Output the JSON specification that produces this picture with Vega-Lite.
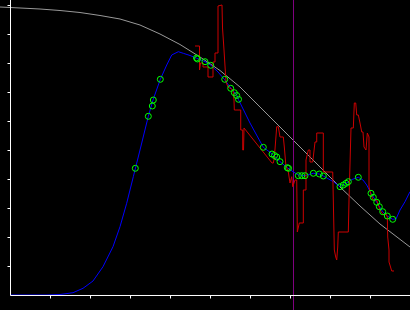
{
  "$schema": "https://vega.github.io/schema/vega-lite/v6.json",
  "width": 410,
  "height": 310,
  "autosize": "none",
  "padding": 0,
  "background": "black",
  "config": {
    "view": {"stroke": null},
    "axis": {"domain": false, "labels": false, "grid": false, "ticks": true, "tickColor": "white", "tickSize": 3, "tickWidth": 1, "labelOverlap": false},
    "axisX": {"offset": -15},
    "axisY": {"offset": -10}
  },
  "datasets": {
    "gray": [
      {"x": -0.25, "y": 9.931}, {"x": 0.25, "y": 9.897}, {"x": 0.75, "y": 9.862}, {"x": 1.25, "y": 9.81},
      {"x": 1.75, "y": 9.741}, {"x": 2.25, "y": 9.638}, {"x": 2.75, "y": 9.517}, {"x": 3.25, "y": 9.31},
      {"x": 3.75, "y": 9.0}, {"x": 4.25, "y": 8.638}, {"x": 4.75, "y": 8.207}, {"x": 5.25, "y": 7.741},
      {"x": 5.75, "y": 7.172}, {"x": 6.25, "y": 6.483}, {"x": 6.75, "y": 5.793}, {"x": 7.25, "y": 5.103},
      {"x": 7.75, "y": 4.414}, {"x": 8.25, "y": 3.724}, {"x": 8.75, "y": 3.069}, {"x": 9.25, "y": 2.448},
      {"x": 10, "y": 1.655}
    ],
    "blue": [
      {"x": 0, "y": 0}, {"x": 0.9, "y": 0}, {"x": 1.25, "y": 0.017}, {"x": 1.575, "y": 0.079},
      {"x": 1.825, "y": 0.231}, {"x": 2.075, "y": 0.483}, {"x": 2.325, "y": 0.976}, {"x": 2.575, "y": 1.666},
      {"x": 2.75, "y": 2.355}, {"x": 2.917, "y": 3.162}, {"x": 3.083, "y": 4.079}, {"x": 3.25, "y": 5.0},
      {"x": 3.458, "y": 6.162}, {"x": 3.575, "y": 6.724}, {"x": 3.758, "y": 7.438}, {"x": 3.918, "y": 7.931},
      {"x": 4.043, "y": 8.276}, {"x": 4.208, "y": 8.39}, {"x": 4.333, "y": 8.334}, {"x": 4.5, "y": 8.259},
      {"x": 4.668, "y": 8.162}, {"x": 4.875, "y": 8.045}, {"x": 5.025, "y": 7.921}, {"x": 5.2, "y": 7.69},
      {"x": 5.358, "y": 7.438}, {"x": 5.525, "y": 7.128}, {"x": 5.668, "y": 6.897}, {"x": 5.708, "y": 6.748},
      {"x": 6.0, "y": 5.931}, {"x": 6.333, "y": 5.093}, {"x": 6.568, "y": 4.852}, {"x": 6.75, "y": 4.597},
      {"x": 6.933, "y": 4.39}, {"x": 7.05, "y": 4.276}, {"x": 7.208, "y": 4.138}, {"x": 7.375, "y": 4.114},
      {"x": 7.583, "y": 4.197}, {"x": 7.733, "y": 4.172}, {"x": 7.833, "y": 4.103}, {"x": 8.083, "y": 3.907},
      {"x": 8.25, "y": 3.734}, {"x": 8.4, "y": 3.852}, {"x": 8.55, "y": 3.983}, {"x": 8.708, "y": 4.059},
      {"x": 8.825, "y": 3.966}, {"x": 8.918, "y": 3.793}, {"x": 9.025, "y": 3.507}, {"x": 9.168, "y": 3.197},
      {"x": 9.318, "y": 2.872}, {"x": 9.433, "y": 2.724}, {"x": 9.568, "y": 2.61}, {"x": 9.65, "y": 2.621},
      {"x": 9.75, "y": 2.931}, {"x": 9.875, "y": 3.217}, {"x": 10, "y": 3.562}
    ],
    "red": [
      {"i": 1, "x": 4.625, "y": 8.586}, {"i": 2, "x": 4.738, "y": 8.586}, {"i": 3, "x": 4.738, "y": 7.759},
      {"i": 4, "x": 4.763, "y": 8.0}, {"i": 5, "x": 4.825, "y": 8.0}, {"i": 6, "x": 4.825, "y": 7.862},
      {"i": 7, "x": 4.95, "y": 7.862}, {"i": 8, "x": 4.95, "y": 7.517}, {"i": 9, "x": 5.075, "y": 7.517},
      {"i": 10, "x": 5.075, "y": 8.034}, {"i": 11, "x": 5.125, "y": 8.034}, {"i": 12, "x": 5.125, "y": 8.345},
      {"i": 13, "x": 5.2, "y": 8.345}, {"i": 14, "x": 5.2, "y": 9.966}, {"i": 15, "x": 5.3, "y": 10.0},
      {"i": 16, "x": 5.313, "y": 9.207}, {"i": 17, "x": 5.35, "y": 8.448}, {"i": 18, "x": 5.4, "y": 7.345},
      {"i": 19, "x": 5.45, "y": 7.172}, {"i": 20, "x": 5.575, "y": 7.069}, {"i": 21, "x": 5.6, "y": 6.724},
      {"i": 22, "x": 5.608, "y": 6.379}, {"i": 23, "x": 5.768, "y": 6.379}, {"i": 24, "x": 5.768, "y": 5.69},
      {"i": 25, "x": 5.818, "y": 5.69}, {"i": 26, "x": 5.818, "y": 5.0}, {"i": 27, "x": 5.838, "y": 5.0},
      {"i": 28, "x": 5.85, "y": 5.759}, {"i": 29, "x": 6.55, "y": 4.552}, {"i": 30, "x": 6.583, "y": 4.552},
      {"i": 31, "x": 6.608, "y": 4.724}, {"i": 32, "x": 6.668, "y": 5.803}, {"i": 33, "x": 6.708, "y": 5.803},
      {"i": 34, "x": 6.75, "y": 5.448}, {"i": 35, "x": 6.833, "y": 5.448}, {"i": 36, "x": 6.858, "y": 5.103},
      {"i": 37, "x": 6.9, "y": 4.414}, {"i": 38, "x": 6.95, "y": 4.31}, {"i": 39, "x": 7.0, "y": 3.862},
      {"i": 40, "x": 7.043, "y": 4.079}, {"i": 41, "x": 7.068, "y": 3.734}, {"i": 42, "x": 7.125, "y": 3.966},
      {"i": 43, "x": 7.168, "y": 3.966}, {"i": 44, "x": 7.183, "y": 2.172}, {"i": 45, "x": 7.233, "y": 2.483},
      {"i": 46, "x": 7.333, "y": 2.483}, {"i": 47, "x": 7.333, "y": 3.621}, {"i": 48, "x": 7.4, "y": 3.621},
      {"i": 49, "x": 7.4, "y": 4.655}, {"i": 50, "x": 7.458, "y": 5.0}, {"i": 51, "x": 7.5, "y": 5.0},
      {"i": 52, "x": 7.5, "y": 4.586}, {"i": 53, "x": 7.568, "y": 4.586}, {"i": 54, "x": 7.625, "y": 5.276},
      {"i": 55, "x": 7.668, "y": 5.276}, {"i": 56, "x": 7.668, "y": 5.586}, {"i": 57, "x": 7.833, "y": 5.586},
      {"i": 58, "x": 7.833, "y": 4.241}, {"i": 59, "x": 8.068, "y": 4.241}, {"i": 60, "x": 8.083, "y": 3.276},
      {"i": 61, "x": 8.108, "y": 1.552}, {"i": 62, "x": 8.143, "y": 1.31}, {"i": 63, "x": 8.168, "y": 1.207},
      {"i": 64, "x": 8.193, "y": 1.655}, {"i": 65, "x": 8.208, "y": 2.172}, {"i": 66, "x": 8.458, "y": 2.172},
      {"i": 67, "x": 8.475, "y": 3.276}, {"i": 68, "x": 8.525, "y": 5.759}, {"i": 69, "x": 8.583, "y": 5.759},
      {"i": 70, "x": 8.608, "y": 6.621}, {"i": 71, "x": 8.643, "y": 6.621}, {"i": 72, "x": 8.668, "y": 6.207},
      {"i": 73, "x": 8.708, "y": 6.207}, {"i": 74, "x": 8.75, "y": 5.931}, {"i": 75, "x": 8.793, "y": 5.621},
      {"i": 76, "x": 8.825, "y": 5.621}, {"i": 77, "x": 8.85, "y": 5.103}, {"i": 78, "x": 8.9, "y": 5.0},
      {"i": 79, "x": 8.933, "y": 5.586}, {"i": 80, "x": 8.975, "y": 5.448}, {"i": 81, "x": 8.975, "y": 3.724},
      {"i": 82, "x": 9.025, "y": 3.448}, {"i": 83, "x": 9.083, "y": 3.276}, {"i": 84, "x": 9.168, "y": 3.276},
      {"i": 85, "x": 9.25, "y": 2.931}, {"i": 86, "x": 9.333, "y": 2.759}, {"i": 87, "x": 9.4, "y": 2.793},
      {"i": 88, "x": 9.433, "y": 2.69}, {"i": 89, "x": 9.443, "y": 2.0}, {"i": 90, "x": 9.475, "y": 1.552},
      {"i": 91, "x": 9.475, "y": 1.138}, {"i": 92, "x": 9.543, "y": 0.828}, {"i": 93, "x": 9.6, "y": 0.828}
    ],
    "pts": [
      {"x": 3.133, "y": 4.369}, {"x": 3.458, "y": 6.162}, {"x": 3.558, "y": 6.517}, {"x": 3.583, "y": 6.724},
      {"x": 3.758, "y": 7.438}, {"x": 4.663, "y": 8.172}, {"x": 4.688, "y": 8.138}, {"x": 4.875, "y": 8.045},
      {"x": 5.018, "y": 7.921}, {"x": 5.368, "y": 7.438}, {"x": 5.518, "y": 7.128}, {"x": 5.608, "y": 6.976},
      {"x": 5.668, "y": 6.879}, {"x": 5.713, "y": 6.748}, {"x": 6.333, "y": 5.093}, {"x": 6.55, "y": 4.862},
      {"x": 6.613, "y": 4.81}, {"x": 6.668, "y": 4.759}, {"x": 6.75, "y": 4.597}, {"x": 6.933, "y": 4.39},
      {"x": 6.963, "y": 4.369}, {"x": 7.208, "y": 4.114}, {"x": 7.293, "y": 4.114}, {"x": 7.375, "y": 4.114},
      {"x": 7.583, "y": 4.197}, {"x": 7.733, "y": 4.172}, {"x": 7.833, "y": 4.103}, {"x": 8.25, "y": 3.734},
      {"x": 8.333, "y": 3.793}, {"x": 8.4, "y": 3.852}, {"x": 8.458, "y": 3.907}, {"x": 8.708, "y": 4.059},
      {"x": 9.025, "y": 3.507}, {"x": 9.083, "y": 3.369}, {"x": 9.168, "y": 3.197}, {"x": 9.233, "y": 3.045},
      {"x": 9.318, "y": 2.872}, {"x": 9.433, "y": 2.724}, {"x": 9.568, "y": 2.61}
    ],
    "marker": [{"x": 7.0875}],
    "yaxis": [{"x": 0.0125, "y": -0.0172, "y2": 10.3}],
    "xaxis": [{"x": 0.0125, "x2": 10.2, "y": -0.0172}]
  },
  "layer": [
    {
      "data": {"name": "gray"},
      "mark": {"type": "line", "color": "#999999", "strokeWidth": 1},
      "encoding": {
        "x": {"field": "x", "type": "quantitative", "title": null, "scale": {"domain": [-0.25, 10], "nice": false, "zero": false},
              "axis": {"values": [1, 2, 3, 4, 5, 6, 7, 8, 9], "labelOverlap": false}},
        "y": {"field": "y", "type": "quantitative", "title": null, "scale": {"domain": [-0.5172, 10.1724], "nice": false, "zero": false},
              "axis": {"values": [1, 2, 3, 4, 5, 6, 7, 8, 9, 10], "labelOverlap": false}}
      }
    },
    {
      "data": {"name": "marker"},
      "mark": {"type": "rule", "color": "#800080", "strokeWidth": 1},
      "encoding": {"x": {"field": "x", "type": "quantitative", "title": null, "axis": {"values": [1, 2, 3, 4, 5, 6, 7, 8, 9], "labelOverlap": false}}}
    },
    {
      "data": {"name": "blue"},
      "mark": {"type": "line", "color": "#0000ff", "strokeWidth": 1},
      "encoding": {
        "x": {"field": "x", "type": "quantitative", "title": null, "axis": {"values": [1, 2, 3, 4, 5, 6, 7, 8, 9], "labelOverlap": false}},
        "y": {"field": "y", "type": "quantitative", "title": null, "axis": {"values": [1, 2, 3, 4, 5, 6, 7, 8, 9, 10], "labelOverlap": false}}
      }
    },
    {
      "data": {"name": "red"},
      "mark": {"type": "line", "color": "#cc0000", "strokeWidth": 1},
      "encoding": {
        "x": {"field": "x", "type": "quantitative", "title": null, "axis": {"values": [1, 2, 3, 4, 5, 6, 7, 8, 9], "labelOverlap": false}},
        "y": {"field": "y", "type": "quantitative", "title": null, "axis": {"values": [1, 2, 3, 4, 5, 6, 7, 8, 9, 10], "labelOverlap": false}},
        "order": {"field": "i", "type": "quantitative"}
      }
    },
    {
      "data": {"name": "yaxis"},
      "mark": {"type": "rule", "color": "white", "strokeWidth": 1},
      "encoding": {
        "x": {"field": "x", "type": "quantitative", "title": null, "axis": {"values": [1, 2, 3, 4, 5, 6, 7, 8, 9], "labelOverlap": false}},
        "y": {"field": "y", "type": "quantitative", "title": null, "axis": {"values": [1, 2, 3, 4, 5, 6, 7, 8, 9, 10], "labelOverlap": false}},
        "y2": {"field": "y2"}
      }
    },
    {
      "data": {"name": "xaxis"},
      "mark": {"type": "rule", "color": "white", "strokeWidth": 1},
      "encoding": {
        "x": {"field": "x", "type": "quantitative", "title": null, "axis": {"values": [1, 2, 3, 4, 5, 6, 7, 8, 9], "labelOverlap": false}},
        "x2": {"field": "x2"},
        "y": {"field": "y", "type": "quantitative", "title": null, "axis": {"values": [1, 2, 3, 4, 5, 6, 7, 8, 9, 10], "labelOverlap": false}}
      }
    },
    {
      "data": {"name": "pts"},
      "mark": {"type": "point", "filled": false, "color": "#00ff00", "size": 36, "strokeWidth": 1, "opacity": 1},
      "encoding": {
        "x": {"field": "x", "type": "quantitative", "title": null, "axis": {"values": [1, 2, 3, 4, 5, 6, 7, 8, 9], "labelOverlap": false}},
        "y": {"field": "y", "type": "quantitative", "title": null, "axis": {"values": [1, 2, 3, 4, 5, 6, 7, 8, 9, 10], "labelOverlap": false}}
      }
    }
  ]
}
